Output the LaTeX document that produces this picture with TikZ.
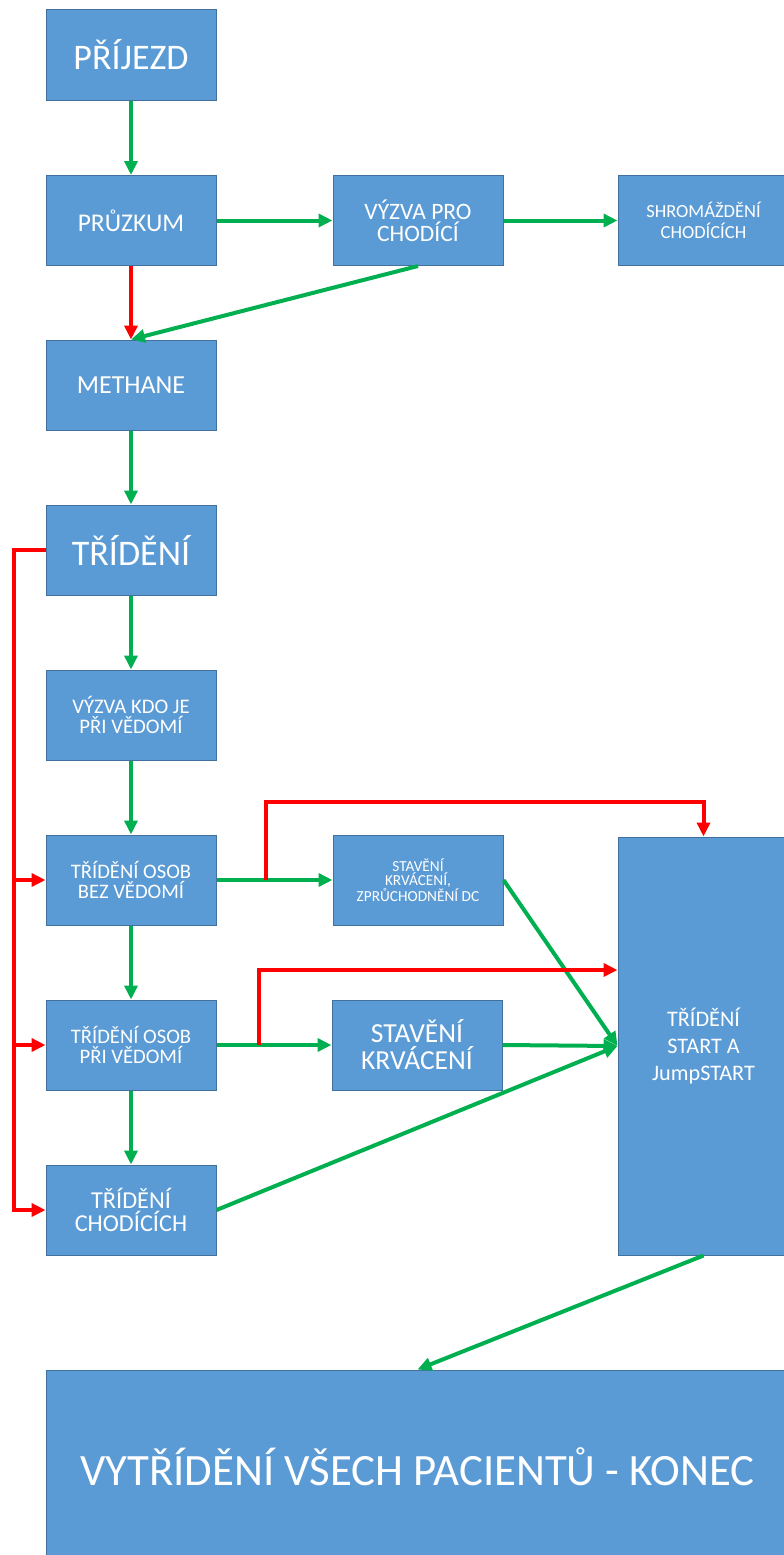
\documentclass[tikz,border=0pt]{standalone}
\usepackage{fontspec}
\setmainfont{Carlito}
\usetikzlibrary{arrows.meta,calc}
\definecolor{boxfill}{HTML}{5B9BD5}
\definecolor{boxline}{HTML}{41719C}
\definecolor{grn}{HTML}{00B050}
\definecolor{rd}{HTML}{FF0000}
\tikzset{
  box/.style={draw=boxline, line width=1pt, fill=boxfill, text=white, align=center,
    inner sep=0pt, minimum width=170pt, minimum height=90pt},
  ga/.style={draw=grn, line width=4pt, -{Triangle[length=14pt,width=13pt]}},
  ra/.style={draw=rd, line width=4pt, line join=miter, -{Triangle[length=14pt,width=13pt]}},
}
\newcommand{\fsz}[2]{\fontsize{#1}{#2}\selectfont}
\begin{document}
\begin{tikzpicture}[x=1pt,y=-1pt]
\useasboundingbox (0,0) rectangle (784,1555);
\clip (0,0) rectangle (784,1555);
\fill[white] (0,0) rectangle (784,1555);

\node[box, font=\fsz{36}{36}] (prij) at (131,55) {PŘÍJEZD};
\node[box, font=\fsz{25.5}{26}] (pruz) at (131,220.5) {PRŮZKUM};
\node[box, font=\fsz{23.5}{22}] (vyzva) at (418,220.5) {VÝZVA PRO\\CHODÍCÍ};
\node[box, minimum width=171pt, font=\fsz{18.5}{21}] (shrom) at (703.5,220.5) {SHROMÁŽDĚNÍ\\CHODÍCÍCH};
\node[box, font=\fsz{26}{26}] (meth) at (131,385) {METHANE};
\node[box, font=\fsz{36}{36}] (tri) at (131,550) {TŘÍDĚNÍ};
\node[box, font=\fsz{20.7}{20}] (kdo) at (131,715) {VÝZVA KDO JE\\PŘI VĚDOMÍ};
\node[box, font=\fsz{20.6}{19.5}] (bez) at (131,880) {TŘÍDĚNÍ OSOB\\BEZ VĚDOMÍ};
\node[box, font=\fsz{15.3}{14}] (stav1) at (418,880) {STAVĚNÍ\\KRVÁCENÍ,\\ZPRŮCHODNĚNÍ DC};
\node[box, font=\fsz{20.6}{19.5}] (pri) at (131,1045) {TŘÍDĚNÍ OSOB\\PŘI VĚDOMÍ};
\node[box, font=\fsz{27.5}{27}] (stav2) at (417,1045) {STAVĚNÍ\\KRVÁCENÍ};
\node[box, font=\fsz{24.3}{23}] (chod) at (131,1210) {TŘÍDĚNÍ\\CHODÍCÍCH};
\node[box, minimum width=171pt, minimum height=418pt, font=\fsz{22.2}{27}] (start) at (703.5,1046) {TŘÍDĚNÍ\\START A\\JumpSTART};
\node[box, minimum width=743pt, minimum height=194pt, font=\fsz{44.8}{45}] (konec) at (417.5,1467) {VYTŘÍDĚNÍ VŠECH PACIENTŮ - KONEC};

% green flow
\draw[ga] (prij.south) -- (pruz.north);
\draw[ga] (pruz.east) -- (vyzva.west);
\draw[ga] (vyzva.east) -- (shrom.west);
\draw[ra] (pruz.south) -- (meth.north);
\draw[ga] (vyzva.south) -- (meth.north);
\draw[ga] (meth.south) -- (tri.north);
\draw[ga] (tri.south) -- (kdo.north);
\draw[ga] (kdo.south) -- (bez.north);
\draw[ga] (bez.south) -- (pri.north);
\draw[ga] (pri.south) -- (chod.north);
\draw[ga] (bez.east) -- (stav1.west);
\draw[ga] (pri.east) -- (stav2.west);
\draw[ga] (stav1.east) -- (start.west);
\draw[ga] (stav2.east) -- (start.west);
\draw[ga] (chod.east) -- (start.west);
\draw[ga] (start.south) -- (konec.north);

% red left bus
\coordinate (lx) at (14,0);
\draw[ra] (tri.west) -- (lx |- tri.west) -- (lx |- chod.west) -- (chod.west);
\draw[ra] (lx |- bez.west) -- (bez.west);
\draw[ra] (lx |- pri.west) -- (pri.west);

% red bypass lines
\coordinate (b1) at ($(bez.east)+(49,0)$);
\coordinate (t1) at (0,802);
\draw[ra] (b1) -- (b1 |- t1) -- (start.north |- t1) -- (start.north);
\coordinate (b2) at ($(pri.east)+(42,0)$);
\coordinate (t2) at (0,970);
\draw[ra] (b2) -- (b2 |- t2) -- (start.west |- t2);
\end{tikzpicture}
\end{document}
